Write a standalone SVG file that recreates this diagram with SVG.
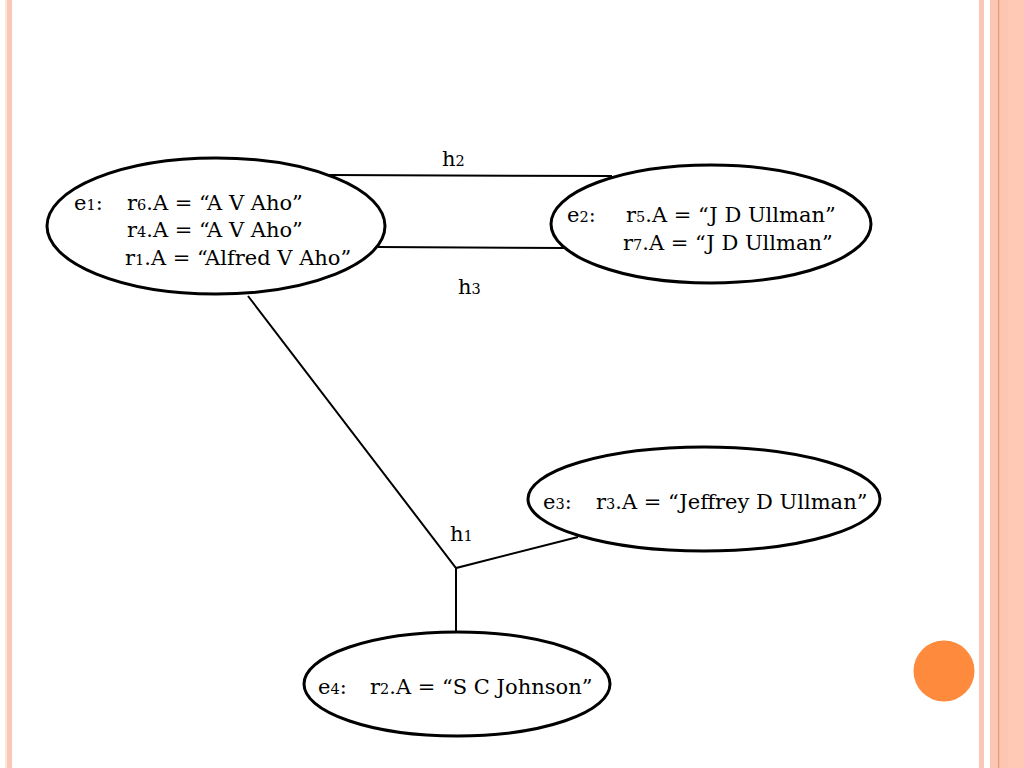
<svg xmlns="http://www.w3.org/2000/svg" width="1024" height="768" viewBox="0 0 1024 768">
<style>
.n{fill:#fff;stroke:#000;stroke-width:3}
.c{stroke:#000;stroke-width:2;fill:none}
text{font-family:"DejaVu Serif","Liberation Serif",serif;font-size:21px;fill:#000}
.d{font-size:14.5px}
</style>
<rect width="1024" height="768" fill="#fff"/>
<g id="border">
<rect x="5" y="0" width="2" height="768" fill="#FBE6D8"/>
<rect x="7" y="0" width="5" height="768" fill="#FBC8B8"/>
<rect x="979" y="0" width="5" height="768" fill="#FAC6B6"/>
<rect x="990" y="0" width="34" height="768" fill="#FCC6B2"/>
<rect x="1008" y="0" width="16" height="768" fill="#FFC9B5"/>
<rect x="998" y="0" width="1.2" height="768" fill="#E39A78"/>
</g>
<g id="connectors">
<line class="c" x1="329" y1="175" x2="612" y2="176"/>
<line class="c" x1="378" y1="247" x2="565" y2="248"/>
<polyline class="c" points="248,296 456,568 578,537"/>
<line class="c" x1="456" y1="568" x2="456" y2="632"/>
<text x="442" y="166">h<tspan class="d">2</tspan></text>
<text x="458" y="294">h<tspan class="d">3</tspan></text>
<text x="450" y="541">h<tspan class="d">1</tspan></text>
</g>
<g id="e1">
<ellipse class="n" cx="216" cy="226" rx="169" ry="68"/>
<text x="74" y="210">e<tspan class="d">1</tspan>:</text>
<text x="127" y="210">r<tspan class="d">6</tspan>.A = “A V Aho”</text>
<text x="127" y="237">r<tspan class="d">4</tspan>.A = “A V Aho”</text>
<text x="125" y="265">r<tspan class="d">1</tspan>.A = “Alfred V Aho”</text>
</g>
<g id="e2">
<ellipse class="n" cx="711" cy="224" rx="160" ry="59"/>
<text x="567" y="222">e<tspan class="d">2</tspan>:</text>
<text x="626" y="222">r<tspan class="d">5</tspan>.A = “J D Ullman”</text>
<text x="623" y="250">r<tspan class="d">7</tspan>.A = “J D Ullman”</text>
</g>
<g id="e3">
<ellipse class="n" cx="704" cy="499" rx="176" ry="52"/>
<text x="543" y="509">e<tspan class="d">3</tspan>:</text>
<text x="596" y="509">r<tspan class="d">3</tspan>.A = “Jeffrey D Ullman”</text>
</g>
<g id="e4">
<ellipse class="n" cx="457" cy="684" rx="153" ry="52"/>
<text x="318" y="694">e<tspan class="d">4</tspan>:</text>
<text x="370" y="694">r<tspan class="d">2</tspan>.A = “S C Johnson”</text>
</g>
<circle id="dot" cx="944" cy="671" r="30.5" fill="#FD8A3D"/>
</svg>
